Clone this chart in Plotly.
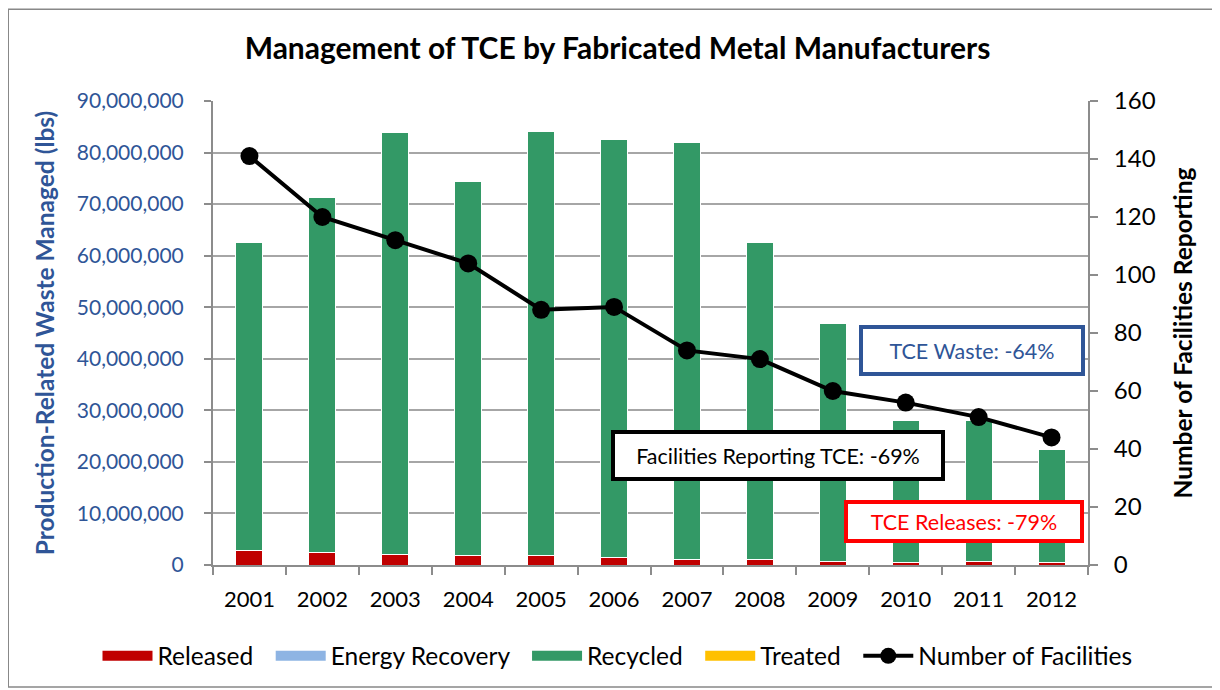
import plotly.graph_objects as go

years = ["2001", "2002", "2003", "2004", "2005", "2006", "2007", "2008", "2009", "2010", "2011", "2012"]
released = [2.8e6, 2.5e6, 2.1e6, 1.8e6, 1.8e6, 1.5e6, 1.1e6, 1.1e6, 0.75e6, 0.5e6, 0.6e6, 0.4e6]
energy_recovery = [0, 0, 0, 0, 0, 0, 0, 0, 0, 0, 0, 0]
recycled = [59.7e6, 68.7e6, 81.7e6, 72.5e6, 82.2e6, 81.1e6, 80.8e6, 61.4e6, 46.15e6, 27.6e6, 27.4e6, 22.1e6]
treated = [0, 0, 0, 0, 0, 0, 0, 0, 0, 0, 0, 0]
facilities = [141, 120, 112, 104, 88, 89, 74, 71, 60, 56, 51, 44]

FONT = "Lato"
BLUE = "#2F5597"
AXIS = "#8C8C8C"
PAD = "\u00a0\u00a0"

bar_series = [
    ("Released", released, "#C00000"),
    ("Energy Recovery", energy_recovery, "#8EB4E3"),
    ("Recycled", recycled, "#339966"),
    ("Treated", treated, "#FFC000"),
]

fig = go.Figure()
for name, vals, col in bar_series:
    fig.add_bar(x=years, y=vals, name=name, legendgroup=name, showlegend=False,
                marker=dict(color=col, line=dict(color="white", width=1 if max(vals) > 0 else 0)))
# legend entries drawn as wide swatches
for name, vals, col in bar_series:
    fig.add_trace(go.Scatter(x=[None], y=[None], name=name + PAD, legendgroup=name, mode="lines",
                             line=dict(color=col, width=14), hoverinfo="skip"))
fig.add_trace(go.Scatter(x=years, y=facilities, name="Number of Facilities", yaxis="y2",
                         mode="lines+markers", line=dict(color="black", width=4),
                         marker=dict(color="black", size=18)))

fig.update_layout(
    width=1220, height=690,
    barmode="stack", bargap=0.63,
    plot_bgcolor="white", paper_bgcolor="white",
    margin=dict(l=205, r=140, t=93, b=133, autoexpand=False),
    font=dict(family=FONT, size=20, color="black"),
    title=dict(text="<b>Management of TCE by Fabricated Metal Manufacturers</b>",
               x=0.4996, xanchor="center", y=0.942, yanchor="middle",
               font=dict(size=30, color="black")),
    xaxis=dict(type="category", range=[-0.5, 11.5], showline=True, linecolor=AXIS, linewidth=2,
               ticks="outside", tickson="boundaries", ticklen=8, tickcolor=AXIS, tickwidth=2,
               tickfont=dict(size=22), tickangle=0, ticklabelstandoff=14,
               showgrid=False, automargin=False),
    yaxis=dict(range=[0, 90e6], dtick=10e6, tickformat=",d", showline=True, linecolor=AXIS, linewidth=2,
               ticks="outside", ticklen=7, tickcolor=AXIS, tickwidth=2, automargin=False,
               ticklabelstandoff=16,
               gridcolor="#A6A6A6", gridwidth=1.5, zeroline=False,
               tickfont=dict(size=21, color=BLUE),
               title=dict(text="<b>Production-Related Waste Managed (lbs)</b>", standoff=15,
                          font=dict(size=24.5, color=BLUE))),
    yaxis2=dict(range=[0, 160], dtick=20, overlaying="y", side="right", showline=True,
                linecolor=AXIS, linewidth=2, ticks="outside", ticklen=8, tickcolor=AXIS, tickwidth=2,
                ticklabelstandoff=11,
                showgrid=False, zeroline=False, tickfont=dict(size=24), automargin=False,
                title=dict(text="<b>Number of Facilities Reporting</b>", standoff=20,
                           font=dict(size=24.5, color="black"))),
    legend=dict(orientation="h", x=-0.132, xanchor="left",
                y=-0.196, yanchor="middle", bgcolor="rgba(0,0,0,0)",
                font=dict(size=24.5), traceorder="normal", itemwidth=50),
    showlegend=True,
)

fig.add_annotation(xref="paper", yref="paper", x=0.867, y=0.463, xanchor="center", yanchor="middle",
                   text="TCE Waste: -64%",
                   showarrow=False, font=dict(size=21.5, color=BLUE), bgcolor="white",
                   bordercolor="#2F5597", borderwidth=4, width=218, height=43, borderpad=0)
fig.add_annotation(xref="paper", yref="paper", x=0.646, y=0.235, xanchor="center", yanchor="middle",
                   text="Facilities Reporting TCE: -69%",
                   showarrow=False, font=dict(size=21.5, color="black"), bgcolor="white",
                   bordercolor="black", borderwidth=4, width=326, height=43, borderpad=0)
fig.add_annotation(xref="paper", yref="paper", x=0.858, y=0.093, xanchor="center", yanchor="middle",
                   text="TCE Releases: -79%",
                   showarrow=False, font=dict(size=21.5, color="red"), bgcolor="white",
                   bordercolor="red", borderwidth=4, width=232, height=35, borderpad=0)

fig.add_shape(type="rect", xref="paper", yref="paper", x0=-0.234, x1=1.1465, y0=-0.2627, y1=1.198,
              line=dict(color="#888888", width=1.5), fillcolor="rgba(0,0,0,0)", layer="below")

fig.write_html("out.html")
